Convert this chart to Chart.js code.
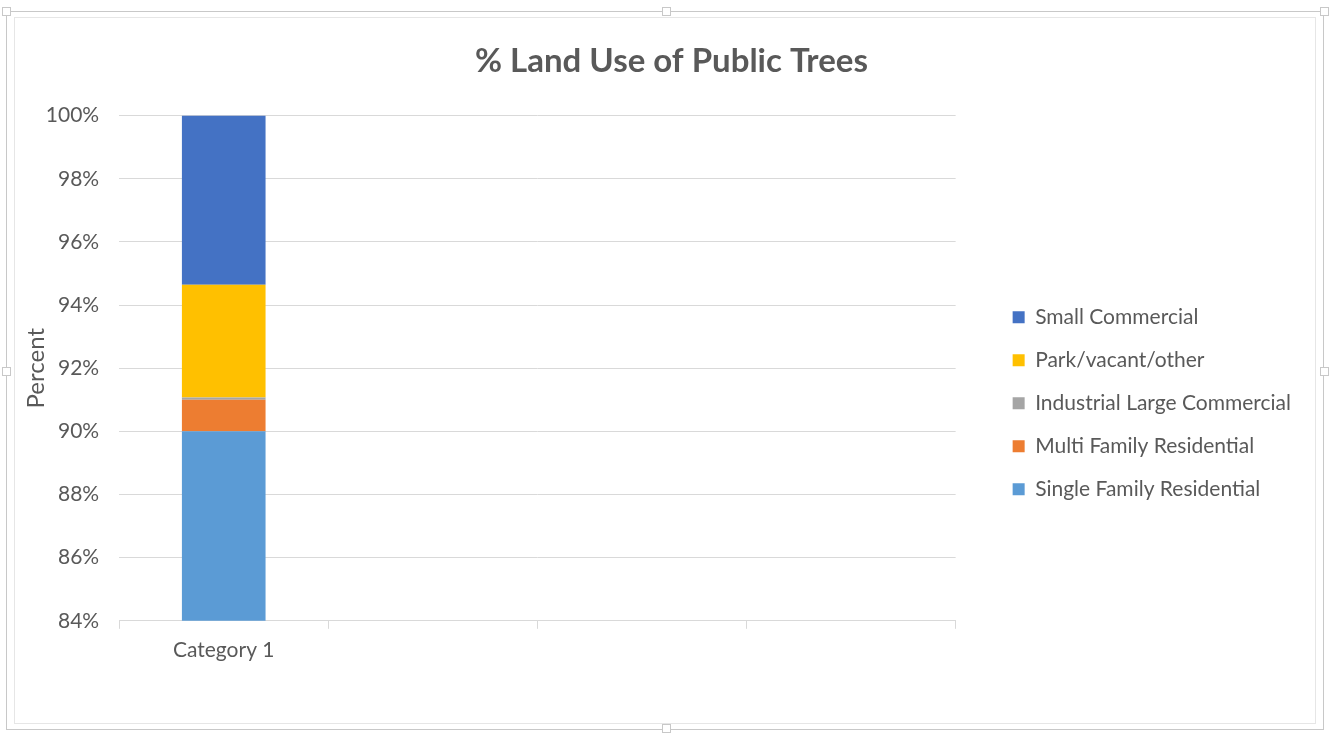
<!DOCTYPE html>
<html>
<head>
<meta charset="utf-8">
<title>% Land Use of Public Trees</title>
<script src="https://cdn.jsdelivr.net/npm/chart.js@4.4.0/dist/chart.umd.min.js"></script>
<style>
    html, body { margin: 0; padding: 0; background: #fff; }
    #wrap { position: relative; width: 1332px; height: 734px; overflow: hidden; }
    #frame { position: absolute; left: 6px; top: 11px; width: 1318px; height: 719px; border: 1px solid #c8c8c8; box-sizing: border-box; }
    #frame2 { position: absolute; left: 14px; top: 17px; width: 1302px; height: 707px; border: 1px solid #e6e6e6; box-sizing: border-box; }
    .handle { position: absolute; width: 9px; height: 9px; border: 1px solid #c8c8c8; background: #fff; box-sizing: border-box; }
    canvas { position: absolute; left: 0; top: 0; }
</style>
</head>
<body>
<div id="wrap">
    <div id="frame"></div>
    <div id="frame2"></div>
    <div class="handle" style="left:2px;top:7px"></div>
    <div class="handle" style="left:662px;top:7px"></div>
    <div class="handle" style="left:1320px;top:7px"></div>
    <div class="handle" style="left:2px;top:367px"></div>
    <div class="handle" style="left:1320px;top:367px"></div>
    <div class="handle" style="left:662px;top:724px"></div>
    <canvas id="chart" width="1332" height="734"></canvas>
</div>
<script>
// categories (only the first one has data)
const categories = ['Category 1', '', '', ''];

// series values, percent of public trees
const singleFamily = [90.0, null, null, null];
const multiFamily = [1.0, null, null, null];
const industrial = [0.07, null, null, null];
const parkVacant = [3.57, null, null, null];
const smallCommercial = [5.36, null, null, null];

const yTicks = [84, 86, 88, 90, 92, 94, 96, 98, 100];

const TEXT = '#595959';
const GRID = '#d9d9d9';
const FONT = 'Lato, "Open Sans", sans-serif';

// make room for the legend, then move it next to the plot like the original
const legendPlace = {
    id: 'legendPlace',
    beforeInit(chart) {
        const fit = chart.legend.fit;
        chart.legend.fit = function () {
            fit.bind(chart.legend)();
            this.width += 66;
        };
    },
    afterLayout(chart) {
        const lg = chart.legend;
        const area = chart.chartArea;
        const w = lg.right - lg.left;
        const h = lg.bottom - lg.top;
        lg.left = area.right + 35;
        lg.right = lg.left + w;
        const cy = (area.top + area.bottom) / 2 + 35;
        lg.top = cy - h / 2;
        lg.bottom = cy + h / 2;
    }
};

new Chart(document.getElementById('chart'), {
    type: 'bar',
    data: {
        labels: categories,
        datasets: [
            { label: 'Single Family Residential', data: singleFamily, backgroundColor: '#5b9bd5' },
            { label: 'Multi Family Residential', data: multiFamily, backgroundColor: '#ed7d31' },
            { label: 'Industrial Large Commercial', data: industrial, backgroundColor: '#a5a5a5' },
            { label: 'Park/vacant/other', data: parkVacant, backgroundColor: '#ffc000' },
            { label: 'Small Commercial', data: smallCommercial, backgroundColor: '#4472c4' }
        ]
    },
    options: {
        responsive: false,
        animation: false,
        categoryPercentage: 1,
        barPercentage: 0.4,
        layout: { padding: { left: 11, right: 0, top: 42, bottom: 62 } },
        plugins: {
            title: {
                display: true,
                text: '% Land Use of Public Trees',
                color: TEXT,
                font: { family: FONT, size: 33, weight: 'bold' },
                padding: { top: 0, bottom: 34 }
            },
            legend: {
                position: 'right',
                reverse: true,
                labels: {
                    color: TEXT,
                    font: { family: FONT, size: 21 },
                    boxWidth: 12,
                    boxHeight: 12,
                    padding: 22
                }
            },
            tooltip: { enabled: false }
        },
        scales: {
            x: {
                stacked: true,
                grid: { display: true, drawOnChartArea: false, color: GRID, tickLength: 8 },
                border: { color: GRID },
                ticks: { color: TEXT, font: { family: FONT, size: 21 }, padding: 9 }
            },
            y: {
                stacked: true,
                min: 84,
                max: 100,
                afterBuildTicks: axis => { axis.ticks = yTicks.map(v => ({ value: v })); },
                grid: { color: GRID, drawTicks: false },
                border: { display: false },
                ticks: {
                    color: TEXT,
                    font: { family: FONT, size: 21 },
                    padding: 20,
                    callback: v => v + '%'
                },
                title: {
                    display: true,
                    text: 'Percent',
                    color: TEXT,
                    font: { family: FONT, size: 24 },
                    padding: { top: 11, bottom: -25 }
                }
            }
        }
    },
    plugins: [legendPlace]
});
</script>
</body>
</html>
